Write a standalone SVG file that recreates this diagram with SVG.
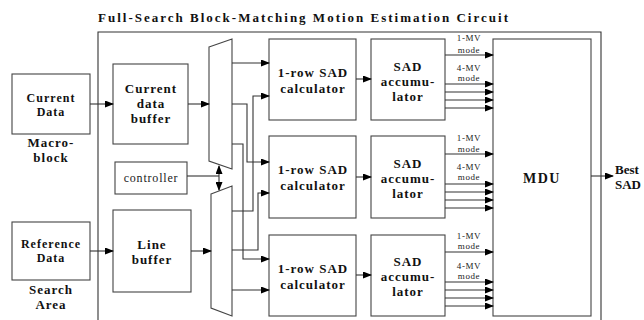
<svg xmlns="http://www.w3.org/2000/svg" width="644" height="320" viewBox="0 0 644 320">
<defs>
<marker id="ah" markerUnits="userSpaceOnUse" markerWidth="9" markerHeight="7" refX="8" refY="3.5" orient="auto-start-reverse">
<path d="M0,0 L9,3.5 L0,7 z" fill="#000"/>
</marker>
<style>
.box{fill:#fff;stroke:#444;stroke-width:1.1}
.w{fill:none;stroke:#333;stroke-width:1.1}
.a{fill:none;stroke:#333;stroke-width:1.1;marker-end:url(#ah)}
.b{font-family:'Liberation Serif','DejaVu Serif',serif;font-weight:bold;fill:#111;text-anchor:middle;letter-spacing:1px}
.n{font-family:'Liberation Serif','DejaVu Serif',serif;fill:#222;text-anchor:middle}
.t{font-size:13px}
.s{font-size:12px}
.m{font-size:9px;letter-spacing:0.6px}
</style>
</defs>
<rect width="644" height="320" fill="#fff"/>
<text x="303" y="22" class="b" font-size="13" textLength="410" lengthAdjust="spacing" style="letter-spacing:0">Full-Search Block-Matching Motion Estimation Circuit</text>
<path d="M98,330 V32 H601 V330" class="w" stroke="#444"/>

<g id="current-data">
<rect x="12" y="74" width="78" height="60" class="box"/>
<text x="51" y="102" class="b s">Current</text>
<text x="51" y="116" class="b s">Data</text>
<text x="51" y="147" class="b t">Macro-</text>
<text x="51" y="162" class="b t">block</text>
</g>
<g id="reference-data">
<rect x="12" y="222" width="78" height="58" class="box"/>
<text x="51" y="248" class="b s">Reference</text>
<text x="51" y="262" class="b s">Data</text>
<text x="51" y="294" class="b t">Search</text>
<text x="51" y="309" class="b t">Area</text>
</g>
<g id="current-buffer">
<rect x="113" y="64" width="75" height="80" class="box"/>
<text x="151" y="93" class="b t">Current</text>
<text x="151" y="108" class="b t">data</text>
<text x="151" y="123" class="b t">buffer</text>
</g>
<g id="controller">
<rect x="115" y="162" width="72" height="32" class="box"/>
<text x="151" y="182" class="n" font-size="12" style="letter-spacing:0.8px">controller</text>
</g>
<g id="line-buffer">
<rect x="113" y="210" width="78" height="82" class="box"/>
<text x="152" y="249" class="b t">Line</text>
<text x="152" y="264" class="b t">buffer</text>
</g>
<g id="mux1"><polygon points="209,47 232,39 232,169 209,161" class="box"/></g>
<g id="mux2"><polygon points="211,194 232,186 232,316 211,308" class="box"/></g>

<g id="calc1"><rect x="269" y="39" width="87" height="81" class="box"/>
<text x="313" y="77" class="b t">1-row SAD</text><text x="313" y="93" class="b t">calculator</text></g>
<g id="calc2"><rect x="269" y="136" width="87" height="82" class="box"/>
<text x="313" y="174" class="b t">1-row SAD</text><text x="313" y="190" class="b t">calculator</text></g>
<g id="calc3"><rect x="269" y="235" width="87" height="81" class="box"/>
<text x="313" y="273" class="b t">1-row SAD</text><text x="313" y="289" class="b t">calculator</text></g>

<g id="acc1"><rect x="371" y="39" width="74" height="81" class="box"/>
<text x="408" y="71" class="b t">SAD</text><text x="408" y="86" class="b t">accumu-</text><text x="408" y="101" class="b t">lator</text></g>
<g id="acc2"><rect x="371" y="136" width="74" height="82" class="box"/>
<text x="408" y="168" class="b t">SAD</text><text x="408" y="183" class="b t">accumu-</text><text x="408" y="198" class="b t">lator</text></g>
<g id="acc3"><rect x="371" y="235" width="74" height="81" class="box"/>
<text x="408" y="266" class="b t">SAD</text><text x="408" y="281" class="b t">accumu-</text><text x="408" y="296" class="b t">lator</text></g>

<g id="mdu"><rect x="493" y="39" width="98" height="277" class="box"/>
<text x="542" y="183" class="b" font-size="14" style="letter-spacing:1.5px">MDU</text></g>

<g id="labels">
<text x="469" y="41" class="n m">1-MV</text><text x="469" y="53" class="n m">mode</text>
<text x="469" y="71" class="n m">4-MV</text><text x="469" y="81" class="n m">mode</text>
<text x="469" y="141" class="n m">1-MV</text><text x="469" y="152" class="n m">mode</text>
<text x="469" y="170" class="n m">4-MV</text><text x="469" y="180" class="n m">mode</text>
<text x="469" y="239" class="n m">1-MV</text><text x="469" y="249" class="n m">mode</text>
<text x="469" y="269" class="n m">4-MV</text><text x="469" y="279" class="n m">mode</text>
<text x="615" y="174" class="b t" style="text-anchor:start;letter-spacing:0">Best</text>
<text x="615" y="189" class="b t" style="text-anchor:start;letter-spacing:0">SAD</text>
</g>

<g id="connectors">
<path d="M90,104 H113" class="a"/>
<path d="M188,104 H209" class="a"/>
<path d="M90,251 H113" class="a"/>
<path d="M191,251 H211" class="a"/>
<path d="M187,176 H219" class="w"/>
<path d="M219,176 V166" class="a"/>
<path d="M219,176 V190" class="a"/>
<path d="M232,63 H269" class="a"/>
<path d="M232,104 H247 V162 H269" class="a"/>
<path d="M232,144 H243 V259 H269" class="a"/>
<path d="M232,211 H253 V96 H269" class="a"/>
<path d="M232,250 H258 V193 H269" class="a"/>
<path d="M232,290 H269" class="a"/>
<path d="M356,79 H371" class="a"/>
<path d="M356,177 H371" class="a"/>
<path d="M356,275 H371" class="a"/>
<path d="M445,55 H493" class="a"/>
<path d="M445,84 H493" class="a"/>
<path d="M445,92 H493" class="a"/>
<path d="M445,100 H493" class="a"/>
<path d="M445,108 H493" class="a"/>
<path d="M445,154 H493" class="a"/>
<path d="M445,184 H493" class="a"/>
<path d="M445,192 H493" class="a"/>
<path d="M445,200 H493" class="a"/>
<path d="M445,208 H493" class="a"/>
<path d="M445,252 H493" class="a"/>
<path d="M445,282 H493" class="a"/>
<path d="M445,290 H493" class="a"/>
<path d="M445,298 H493" class="a"/>
<path d="M445,306 H493" class="a"/>
<path d="M591,176 H613" class="a"/>
</g>
</svg>
